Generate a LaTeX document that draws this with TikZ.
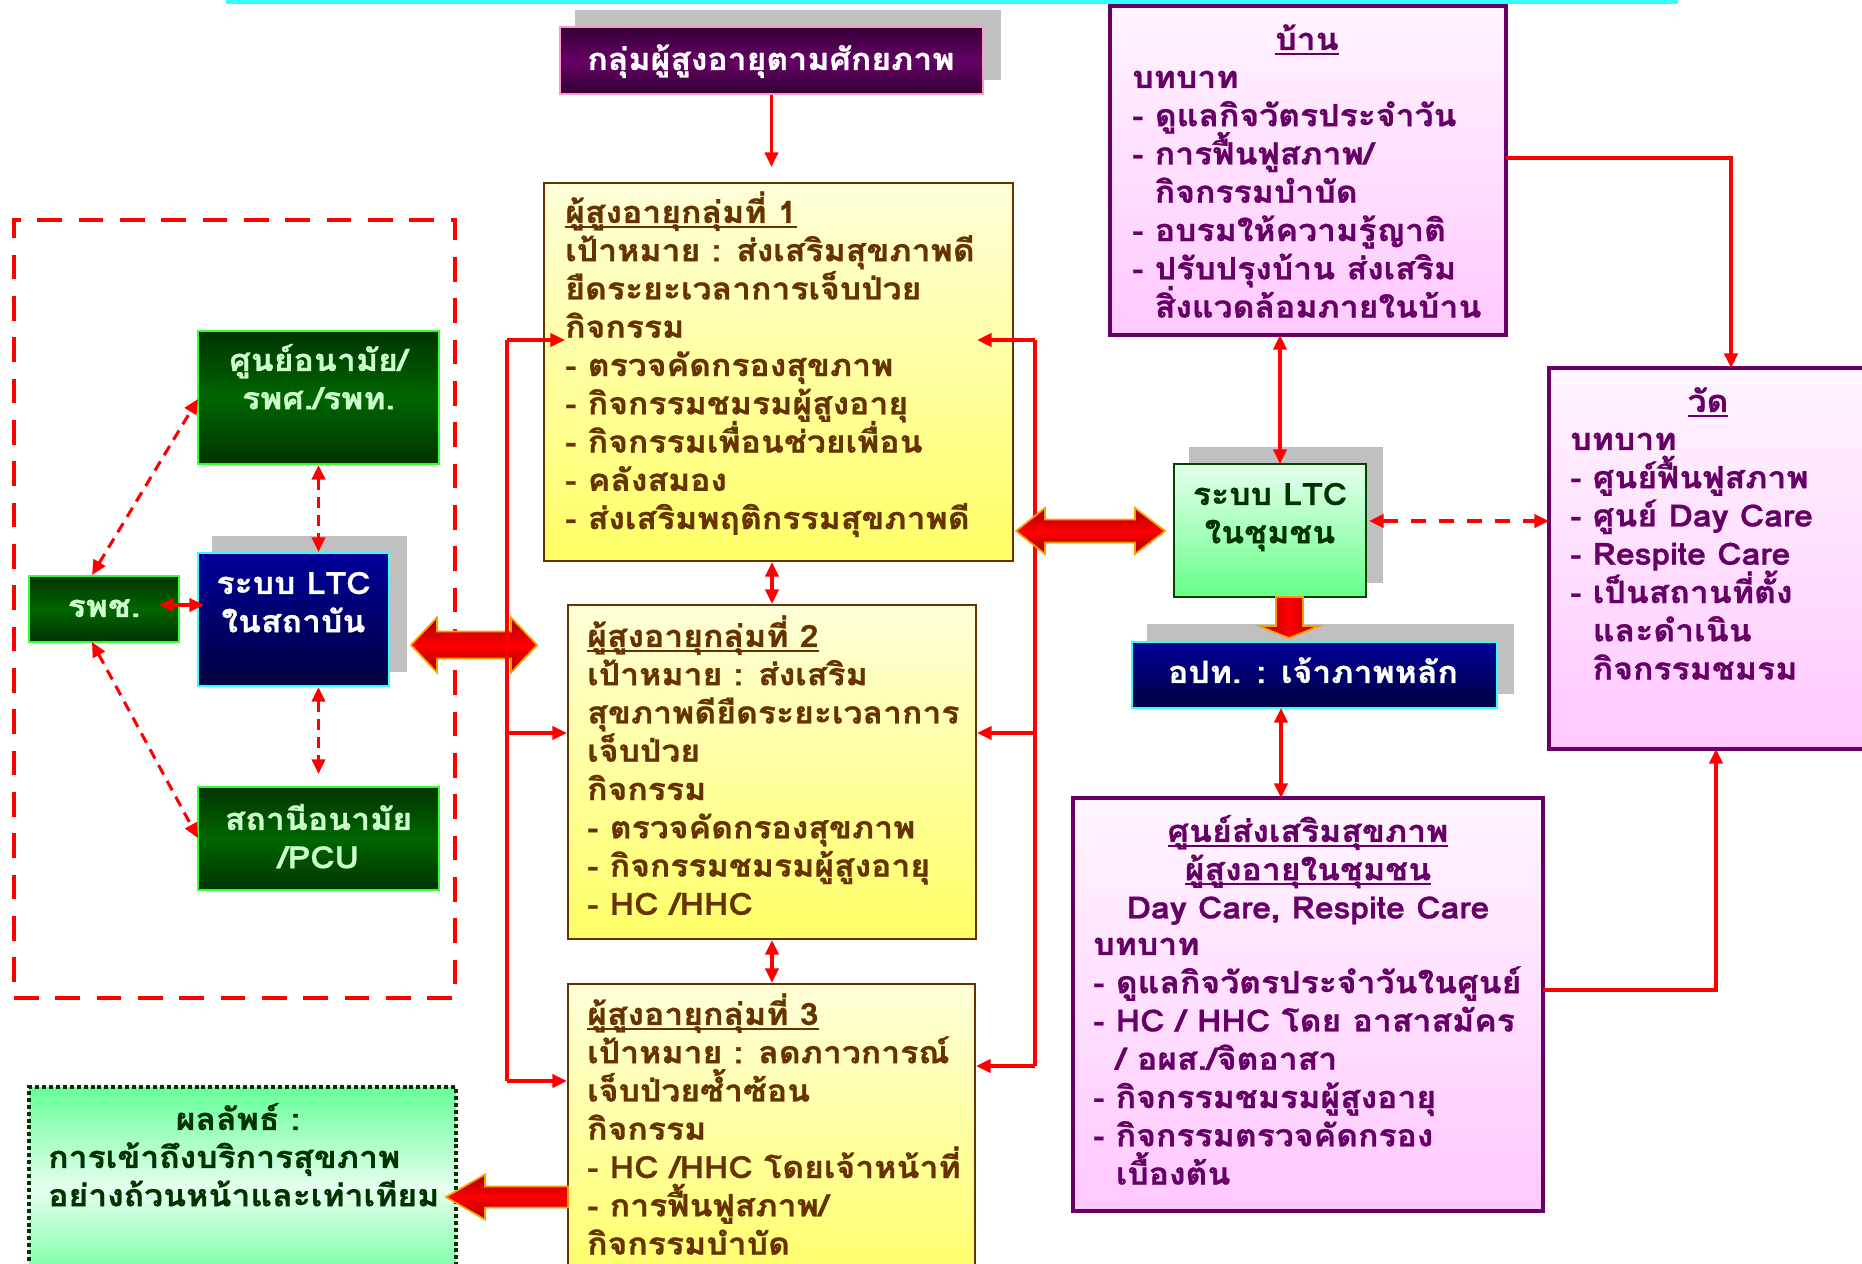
\documentclass[tikz,border=0pt]{standalone}
\usepackage{fontspec}
\usetikzlibrary{arrows.meta,fit,calc}
\newfontfamily\thaib[Script=Thai, FakeStretch=1.1, BoldFeatures={FakeBold=0.8}]{Loma}
\newcommand{\fl}{\rule{0pt}{26pt}}
\newcommand{\thaitext}{\thaib\bfseries\fontsize{23}{28.7}\selectfont}
\newcommand{\myul}[1]{\setbox0=\hbox{#1}\rlap{\rule[-3.5pt]{\wd0}{1.3pt}}\box0}
\setlength{\lineskiplimit}{-100pt}
\definecolor{brn}{HTML}{663300}
\definecolor{prp}{HTML}{660066}
\definecolor{dgr}{HTML}{003300}
\definecolor{lgt}{HTML}{CCFFCC}
\definecolor{shd}{HTML}{C0C0C0}
\definecolor{orng}{HTML}{FF9900}
\definecolor{cyn}{HTML}{33FFFF}
\definecolor{brgreen}{HTML}{33FF33}
\definecolor{ltcb}{HTML}{004400}
\definecolor{pinkb}{HTML}{FF99CC}
\definecolor{cA}{HTML}{330033}
\definecolor{cB}{HTML}{660066}
\definecolor{cC}{HTML}{FFFFD9}
\definecolor{cD}{HTML}{FFFF66}
\definecolor{cE}{HTML}{FFF5FF}
\definecolor{cF}{HTML}{FFC8FF}
\definecolor{cG}{HTML}{003300}
\definecolor{cH}{HTML}{006600}
\definecolor{cI}{HTML}{000099}
\definecolor{cJ}{HTML}{000040}
\definecolor{cK}{HTML}{E6FFEE}
\definecolor{cL}{HTML}{66FF88}
\definecolor{cM}{HTML}{66FF99}
\begin{document}
\begin{tikzpicture}[x=0.75pt,y=-0.75pt,
  >={Triangle[length=11pt,width=10pt]},
  tx/.style={font=\thaitext, inner sep=0pt, align=left, anchor=north west},
  txc/.style={tx, align=center, anchor=north},
  shadowbox/.style={fill=shd, draw=none, inner sep=0pt},
  titlebox/.style={draw=pinkb, line width=1.5pt, inner sep=0pt,
             top color=cA, bottom color=cA, middle color=cB},
  ybox/.style={draw=brn, line width=1.6pt, inner sep=0pt, top color=cC, bottom color=cD},
  pbox/.style={draw=prp, line width=2.4pt, inner sep=0pt, top color=cE, bottom color=cF},
  gbox/.style={draw=brgreen, line width=1.5pt, inner sep=0pt,
             top color=cG, bottom color=cG, middle color=cH},
  bbox/.style={draw=cyn, line width=1.5pt, inner sep=0pt, top color=cI, bottom color=cJ},
  lbox/.style={draw=ltcb, line width=1.5pt, inner sep=0pt, top color=cK, bottom color=cL},
  rbox/.style={draw=dgr, line width=3pt, dash pattern=on 3pt off 2.2pt, inner sep=0pt,
             top color=cM, bottom color=cM, middle color=cK},
  rl/.style={draw=red, line width=2.3pt},
  rdash/.style={draw=red, line width=2.3pt, dash pattern=on 8pt off 5.5pt},
  rdash2/.style={draw=red, line width=2.3pt, dash pattern=on 11pt off 10pt},
  fat/.style={draw=orng, line width=1.3pt, line join=miter,
             top color=red!65!black, bottom color=red!65!black, middle color=red},
  fatv/.style={draw=orng, line width=1.3pt, line join=miter,
             left color=red!65!black, right color=red!65!black, middle color=red}
]
\path[use as bounding box] (0,0) rectangle (1862,1263);
\clip (0,0) rectangle (1862,1263);
\fill[white] (0,0) rectangle (1862,1263);

% top cyan strip
\fill[cyn] (226,0) rectangle (1678,4);

% ---------- title ----------
\node[shadowbox, fit={(575,10) (1001,80)}] (Tsh) {};
\node[titlebox, fit={(560,27) (983,94)}] (T) {};
\node[txc, text=white] (Tt) at (771,35) {\fl กลุ่มผู้สูงอายุตามศักยภาพ};

% ---------- groups ----------
\node[ybox, fit={(544,183) (1013,561)}] (g1) {};
\node[tx, text=brn] (g1t) at (565,188) {\fl\myul{ผู้สูงอายุกลุ่มที่ 1}\\
เป้าหมาย : ส่งเสริมสุขภาพดี\\
ยืดระยะเวลาการเจ็บป่วย\\
กิจกรรม\\
- ตรวจคัดกรองสุขภาพ\\
- กิจกรรมชมรมผู้สูงอายุ\\
- กิจกรรมเพื่อนช่วยเพื่อน\\
- คลังสมอง\\
- ส่งเสริมพฤติกรรมสุขภาพดี};

\node[ybox, fit={(568,605) (976,939)}] (g2) {};
\node[tx, text=brn] (g2t) at (587,612) {\fl\myul{ผู้สูงอายุกลุ่มที่ 2}\\
เป้าหมาย : ส่งเสริม\\
สุขภาพดียืดระยะเวลาการ\\
เจ็บป่วย\\
กิจกรรม\\
- ตรวจคัดกรองสุขภาพ\\
- กิจกรรมชมรมผู้สูงอายุ\\
- HC /HHC};

\node[ybox, fit={(568,984) (975,1290)}] (g3) {};
\node[tx, text=brn] (g3t) at (587,990) {\fl\myul{ผู้สูงอายุกลุ่มที่ 3}\\
เป้าหมาย : ลดภาวการณ์\\
เจ็บป่วยซ้ำซ้อน\\
กิจกรรม\\
- HC /HHC โดยเจ้าหน้าที่\\
- การฟื้นฟูสภาพ/\\
กิจกรรมบำบัด};

% ---------- left institution cluster ----------
\node[draw=red, line width=3.6pt, dash pattern=on 18.5pt off 12.5pt, inner sep=0pt,
      fit={(14,220) (455,998)}] (dbox) {};
\node[gbox, fit={(198,331) (439,464)}] (Ga) {};
\node[txc, text=lgt] (Gat) at (318.5,336) {\fl ศูนย์อนามัย/\\รพศ./รพท.};
\node[gbox, fit={(29,576) (179,642)}] (Gb) {};
\node[txc, text=lgt] (Gbt) at (104,582) {\fl รพช.};
\node[shadowbox, fit={(212,536) (407,672)}] (Lish) {};
\node[bbox, fit={(198,553) (389,686)}] (Li) {};
\node[txc, text=white] (Lit) at (293.5,559) {\fl ระบบ LTC\\ในสถาบัน};
\node[gbox, fit={(198,787) (439,890)}] (Gc) {};
\node[txc, text=lgt] (Gct) at (318.5,795) {\fl สถานีอนามัย\\/PCU};

\coordinate (Gcin) at (318.5,774);
\coordinate (GbR) at (159,605);
\coordinate (LiL) at (204,605);
\coordinate (GbN) at (92,575);
\coordinate (GbS) at (92,642);
\coordinate (GaW) at (198,399);
\coordinate (GcW) at (198,838);
\draw[rdash,<->] (Ga.south) -- (Ga.south |- Li.north);
\draw[rdash,<->] (Ga.south |- Li.south) -- (Gcin);
\draw[rl,<->] (GbR) -- (LiL);
\draw[rdash,<->] (GbN) -- (GaW);
\draw[rdash,<->] (GbS) -- (GcW);

% ---------- result box ----------
\node[rbox, fit={(29,1087) (456,1290)}] (res) {};
\node[txc, text=dgr] (rest1) at (238,1095) {\fl ผลลัพธ์ :};
\node[tx, text=dgr] (rest2) at (48,1133) {\fl การเข้าถึงบริการสุขภาพ\\อย่างถ้วนหน้าและเท่าเทียม};

% ---------- right side ----------
\node[pbox, fit={(1110,6) (1506,335)}] (home) {};
\node[txc, text=prp] (homeh) at (1307,15) {\fl\myul{บ้าน}};
\node[tx, text=prp] (homet) at (1132,53) {\fl บทบาท\\
- ดูแลกิจวัตรประจำวัน\\
- การฟื้นฟูสภาพ/\\
\phantom{- }กิจกรรมบำบัด\\
- อบรมให้ความรู้ญาติ\\
- ปรับปรุงบ้าน ส่งเสริม\\
\phantom{- }สิ่งแวดล้อมภายในบ้าน};

\node[pbox, fit={(1549,368) (1890,749)}] (wat) {};
\node[txc, text=prp] (wath) at (1708,377) {\fl\myul{วัด}};
\node[tx, text=prp] (watt) at (1570,415) {\fl บทบาท\\
- ศูนย์ฟื้นฟูสภาพ\\
- ศูนย์ Day Care\\
- Respite Care\\
- เป็นสถานที่ตั้ง\\
\phantom{- }และดำเนิน\\
\phantom{- }กิจกรรมชมรม};

\node[shadowbox, fit={(1189,447) (1383,583)}] (Lcsh) {};
\node[lbox, fit={(1174,464) (1366,597)}] (Lc) {};
\node[txc, text=dgr] (Lct) at (1270,470) {\fl ระบบ LTC\\ในชุมชน};

\node[shadowbox, fit={(1147,624) (1514,694)}] (Osh) {};
\node[bbox, fit={(1132,642) (1497,708)}] (O) {};
\node[txc, text=white] (Ot) at (1313,648) {\fl อปท. : เจ้าภาพหลัก};

\node[pbox, fit={(1073,798) (1543,1211)}] (C) {};
\node[txc, text=prp] (Ch) at (1308,807) {\fl\myul{ศูนย์ส่งเสริมสุขภาพ}\\
\myul{ผู้สูงอายุในชุมชน}\\
Day Care, Respite Care};
\node[tx, text=prp] (Ct) at (1093,920) {\fl บทบาท\\
- ดูแลกิจวัตรประจำวันในศูนย์\\
- HC / HHC โดย อาสาสมัคร\\
\phantom{- }/ อผส./จิตอาสา\\
- กิจกรรมชมรมผู้สูงอายุ\\
- กิจกรรมตรวจคัดกรอง\\
\phantom{- }เบื้องต้น};

% ---------- connectors ----------
\coordinate (Tin) at (771.5,167);
\draw[rl,->] (T.south) -- (Tin);

\draw[rl,<->] (g2.north |- g1.south) -- (g2.north);
\draw[rl,<->] (g2.south) -- (g2.south |- g3.north);

% right bracket (under the fat arrow)
\coordinate (R1) at (1035,340);
\coordinate (R1t) at (977,340);
\coordinate (R2) at (1035,733);
\coordinate (R3) at (1035,1066);
\draw[rl] (R1) -- (R3);
\draw[rl,->] (R1) -- (R1t);
\draw[rl,->] (R2) -- (R2 -| g2.east);
\draw[rl,->] (R3) -- (R3 -| g3.east);

% fat arrows
\path[fat] (411,645) -- (437,617.5) -- (437,631.5) -- (511,631.5) -- (511,617.5) -- (537,645)
   -- (511,672.5) -- (511,658.5) -- (437,658.5) -- (437,672.5) -- cycle;
\path[fat] (1016,531) -- (1045,508) -- (1045,519.5) -- (1135,519.5) -- (1135,508) -- (1165,531)
   -- (1135,554) -- (1135,542.5) -- (1045,542.5) -- (1045,554) -- cycle;
\path[fatv] (1276,597) -- (1303,597) -- (1303,626) -- (1319,626) -- (1289,638) -- (1259,626)
   -- (1276,626) -- cycle;
\path[fat] (446,1197) -- (485,1174.5) -- (485,1186.5) -- (568,1186.5) -- (568,1207.5)
   -- (485,1207.5) -- (485,1219.5) -- cycle;

% left bracket (over the fat arrow)
\coordinate (L1) at (507,340);
\coordinate (L1t) at (565,340);
\coordinate (L2) at (507,733);
\coordinate (L3) at (507,1081);
\draw[rl] (L1) -- (L3);
\draw[rl,->] (L1) -- (L1t);
\draw[rl,->] (L2) -- (L2 -| g2.west);
\draw[rl,->] (L3) -- (L3 -| g3.west);

% right side connectors
\coordinate (hS) at (1280,335);
\coordinate (lcN) at (1280,464);
\coordinate (hE) at (1506,158);
\coordinate (hK) at (1731,158);
\coordinate (wN) at (1731,368);
\coordinate (lcE) at (1369,521);
\coordinate (wW) at (1549,521);
\coordinate (oS) at (1281,708);
\coordinate (cN) at (1281,798);
\coordinate (cE) at (1543,990);
\coordinate (cK) at (1716,990);
\coordinate (wS) at (1716,749);
\draw[rl,<->] (hS) -- (lcN);
\draw[rl,line width=2.8pt,->] (hE) -- (hK) -- (wN);
\draw[rdash2,<->] (lcE) -- (wW);
\draw[rl,<->] (oS) -- (cN);
\draw[rl,->] (cE) -- (cK) -- (wS);
\end{tikzpicture}
\end{document}
